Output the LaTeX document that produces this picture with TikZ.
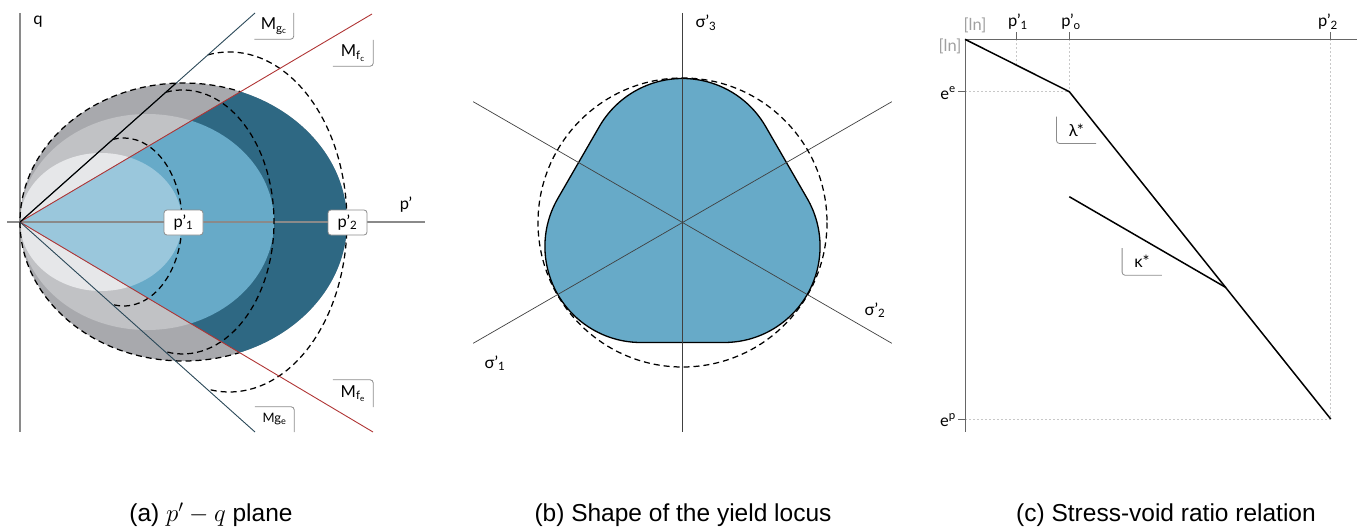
\documentclass[tikz,border=0pt]{standalone}
\usepackage{fontspec}
\setmainfont{Liberation Sans}
\newfontfamily\labfont{Lato}
\definecolor{bLight}{HTML}{9AC7DC}
\definecolor{bMid}{HTML}{67AAC8}
\definecolor{bDark}{HTML}{2E6883}
\definecolor{gLight}{HTML}{E6E7E9}
\definecolor{gMid}{HTML}{C1C2C5}
\definecolor{gDark}{HTML}{A8A9AD}
\definecolor{redline}{HTML}{B03535}
\definecolor{slateline}{HTML}{2A4858}
\definecolor{axisgray}{HTML}{8A8A8A}
\definecolor{boxgray}{HTML}{8C8C8C}
\definecolor{lngray}{HTML}{A0A0A0}
\definecolor{guidegray}{HTML}{C8C8C8}
\begin{document}
\begin{tikzpicture}[x=1pt,y=1pt,yscale=-1,
  lab/.style={font=\labfont\fontsize{16.5}{18}\selectfont, inner sep=0pt},
  capt/.style={font=\fontsize{24.5}{29}\selectfont, inner sep=0pt},
  axisA/.style={draw=axisgray, line width=1.2pt},
  dashline/.style={draw=black, line width=1.25pt, dash pattern=on 6pt off 4pt},
  mfline/.style={draw=redline, line width=0.9pt},
  mgline/.style={draw=slateline, line width=0.9pt},
  cornerbox/.style={lab, minimum width=39pt, minimum height=26pt},
  pbox/.style={lab, draw=boxgray, fill=white, rounded corners=3pt, line width=0.8pt, minimum width=39pt, minimum height=25pt},
  cbox/.style={draw=boxgray, line width=0.8pt, rounded corners=3pt},
  thin axis/.style={draw=black!75, line width=0.7pt},
  axisC/.style={draw=black!60, line width=1pt},
  guide/.style={draw=guidegray, line width=0.6pt, dash pattern=on 2pt off 2pt},
  curve/.style={draw=black, line width=1.5pt, line join=round},
]
\useasboundingbox (0,0) rectangle (1363,527);

% ================= (a) p'-q plane =================
\coordinate (O) at (20,222);
\coordinate (qtop) at (20,13);
\coordinate (qbot) at (20,432);
\coordinate (pleft) at (7,222);
\coordinate (pright) at (425,222);
\coordinate (MgcEnd) at (255,13);
\coordinate (MgeEnd) at (255,432);
\coordinate (MfcEnd) at (372,14);
\coordinate (MfeEnd) at (373,432);
\coordinate (MgcIn) at (176.1,83.1);

% grey ellipses
\fill[gDark] (183.5,222) ellipse [x radius=163.5, y radius=139];
\fill[gMid] (147,222) ellipse [x radius=127, y radius=108];
\fill[gLight] (101,222) ellipse [x radius=81, y radius=69];
% blue inside Mf wedge
\begin{scope}
  \clip (20,222) -- (724,-194) -- (726,642) -- cycle;
  \fill[bDark] (183.5,222) ellipse [x radius=163.5, y radius=139];
  \fill[bMid] (147,222) ellipse [x radius=127, y radius=108];
  \fill[bLight] (101,222) ellipse [x radius=81, y radius=69];
\end{scope}

% axes
\draw[axisA] (qtop) -- (qbot);
\draw[axisA] (pleft) -- (pright);

% outer dashed boundary of grey part
\begin{scope}
  \clip (20,222) -- (724,-194) -- (-50,-194) -- (-50,640) -- (726,642) -- cycle;
  \draw[dashline] (183.5,222) ellipse [x radius=163.5, y radius=139];
\end{scope}
% plastic potentials: arcs between the two Mg lines
\coordinate (g1s) at (112.77,139.49);
\coordinate (g2s) at (165.95,92.2);
\coordinate (g3s) at (207.95,54.82);
\draw[dashline] (g1s) arc[start angle=-100.8, end angle=100.8, x radius=58.3, y radius=84];
\draw[dashline] (g2s) arc[start angle=-100.5, end angle=100.5, x radius=91.4, y radius=132];
\draw[dashline] (g3s) arc[start angle=-100.45, end angle=100.45, x radius=117.7, y radius=170];

% lines
\draw[mfline] (O) -- (MfcEnd);
\draw[mfline] (O) -- (MfeEnd);
\draw[mgline] (O) -- (MgcEnd);
\draw[mgline] (O) -- (MgeEnd);
\draw[draw=black, line width=1.1pt] (O) -- (MgcIn);

% labels
\node[lab] (qlab) at (38,22) {q};
\node[lab] (plab) at (406,205) {p’};
\node[pbox] (p1box) at (183.5,222.5) {p’\textsubscript{1}};
\node[pbox] (p2box) at (347.5,222.5) {p’\textsubscript{2}};

\node[cornerbox] (Mgc) at (274,26) {M\textsubscript{g\textsubscript{c}}};
\draw[cbox] (Mgc.south west) -- (Mgc.south east) -- (Mgc.north east);
\node[cornerbox, minimum width=40pt] (Mfc) at (353,53) {M\textsubscript{f\textsubscript{c}}};
\draw[cbox] (Mfc.south west) -- (Mfc.south east) -- (Mfc.north east);
\node[cornerbox, minimum width=40pt, minimum height=27pt] (Mfe) at (353,393.5) {M\textsubscript{f\textsubscript{e}}};
\draw[cbox] (Mfe.north west) -- (Mfe.north east) -- (Mfe.south east);
\node[cornerbox, minimum height=25pt, font=\labfont\fontsize{13}{15}\selectfont] (Mge) at (274.5,419.5) {Mg\textsubscript{e}};
\draw[cbox] (Mge.north west) -- (Mge.north east) -- (Mge.south east);

\node[capt] (capA) at (211,515) {(a) $p'-q$ plane};

% ================= (b) yield locus shape =================
\coordinate (C) at (682.5,222.5);
\coordinate (s3top) at (682.5,13);
\coordinate (s3bot) at (682.5,432);
\coordinate (dA1) at (473.2,101.7);
\coordinate (dA2) at (891.8,343.3);
\coordinate (dB1) at (473.2,343.3);
\coordinate (dB2) at (891.8,101.7);

\begin{scope}[shift={(C)}, yscale=-1]
  \filldraw[fill=bMid, draw=black, line width=1.3pt, line join=round]
    (83.14,96) arc[start angle=30, end angle=150, radius=96]
    -- (-124.71,24) arc[start angle=150, end angle=270, radius=96]
    -- (41.57,-120) arc[start angle=270, end angle=390, radius=96]
    -- cycle;
\end{scope}
\draw[thin axis] (s3top) -- (s3bot);
\draw[thin axis] (dA1) -- (dA2);
\draw[thin axis] (dB1) -- (dB2);
\draw[dashline] (C) circle [radius=144.5];

\node[lab] (sig3) at (706,23) {σ’\textsubscript{3}};
\node[lab] (sig2) at (875,310) {σ’\textsubscript{2}};
\node[lab] (sig1) at (495,363) {σ’\textsubscript{1}};

\node[capt] (capB) at (683,515) {(b) Shape of the yield locus};

% ================= (c) stress-void ratio =================
\coordinate (E0) at (965,39.3);
\coordinate (Ebot) at (965,432);
\coordinate (Eright) at (1356.7,39.3);
\coordinate (P1ax) at (1016.7,39.3);
\coordinate (P0ax) at (1069.3,39.3);
\coordinate (P2ax) at (1330.7,39.3);
\coordinate (P1t) at (1016.7,32);
\coordinate (P0t) at (1069.3,32);
\coordinate (P2t) at (1330.7,32);
\coordinate (P1on) at (1016.7,65.3);
\coordinate (Kink) at (1069.3,91.7);
\coordinate (End) at (1330.7,419);
\coordinate (EeAx) at (965,91.7);
\coordinate (EpAx) at (965,419);
\coordinate (EeT) at (958,91.7);
\coordinate (EpT) at (958,419);
\coordinate (KapS) at (1069.3,196.7);
\coordinate (KapE) at (1226,287.6);

\draw[guide] (P1ax) -- (P1on);
\draw[guide] (P0ax) -- (Kink);
\draw[guide] (P2ax) -- (End);
\draw[guide] (EeAx) -- (Kink);
\draw[guide] (EpAx) -- (End);

\draw[axisC] (E0) -- (Ebot);
\draw[axisC] (E0) -- (Eright);
\draw[axisC] (P1ax) -- (P1t);
\draw[axisC] (P0ax) -- (P0t);
\draw[axisC] (P2ax) -- (P2t);
\draw[axisC] (EeAx) -- (EeT);
\draw[axisC] (EpAx) -- (EpT);

\draw[curve] (E0) -- (Kink) -- (End);
\draw[curve] (KapS) -- (KapE);

\node[lab, text=lngray] (lnTop) at (975,25) {[ln]};
\node[lab, text=lngray] (lnLeft) at (950,46.5) {[ln]};
\node[lab] (p1c) at (1018,22) {p’\textsubscript{1}};
\node[lab] (p0c) at (1071,22) {p’\textsubscript{o}};
\node[lab] (p2c) at (1328,22) {p’\textsubscript{2}};
\node[lab] (ee) at (948,93) {e\textsuperscript{e}};
\node[lab] (ep) at (948,420) {e\textsuperscript{p}};

\node[cornerbox, minimum width=39.3pt, minimum height=26.6pt] (lam) at (1076.3,130) {λ*};
\draw[cbox] (lam.north west) -- (lam.south west) -- (lam.south east);
\node[cornerbox, minimum width=39.4pt, minimum height=26.7pt] (kap) at (1142,261.7) {κ*};
\draw[cbox] (kap.north west) -- (kap.south west) -- (kap.south east);

\node[capt] (capC) at (1166,515) {(c) Stress-void ratio relation};
\end{tikzpicture}
\end{document}
